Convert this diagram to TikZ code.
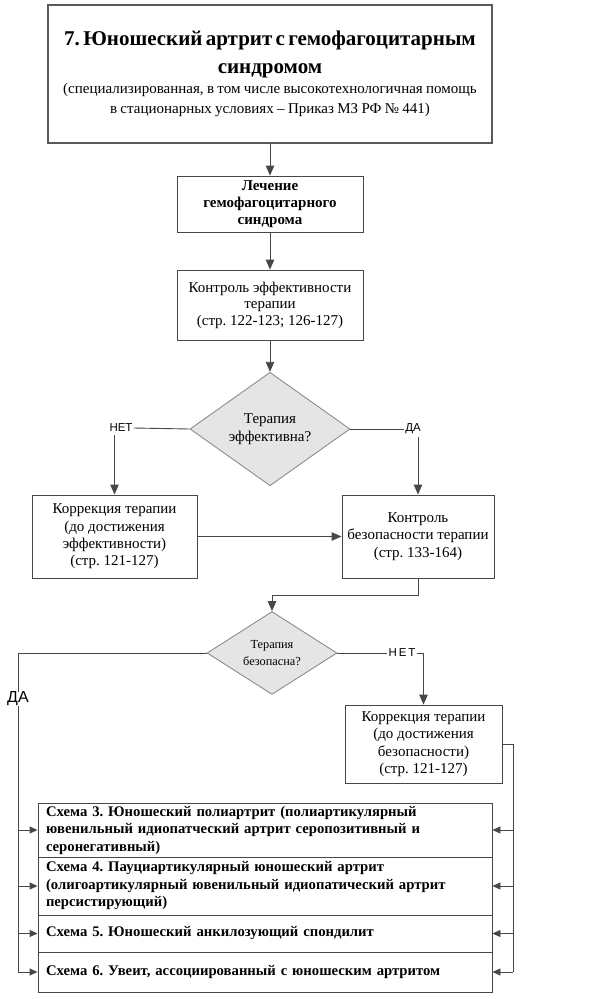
\documentclass[tikz,border=0pt]{standalone}
\usepackage{fontspec}
\setmainfont{Liberation Serif}
\newfontfamily\labelfont{Liberation Sans}
\usetikzlibrary{shapes.geometric,arrows.meta,calc}
\frenchspacing
\begin{document}
\begin{tikzpicture}[x=1pt,y=-1pt,
  box/.style={draw=black!72,line width=0.9pt,fill=white,rectangle,inner sep=2pt,align=center},
  decision/.style={diamond,draw=black!45,line width=0.9pt,fill=black!10,inner sep=0pt,align=center},
  lbl/.style={font=\labelfont\fontsize{11.5}{13}\selectfont,inner sep=1pt,fill=white},
  line/.style={draw=black!72,line width=0.9pt},
  arr/.style={line,-{Triangle[length=10pt,width=8.5pt]}},
  sarr/.style={line,-{Triangle[length=8pt,width=7pt]}},
  schema/.style={box,align=left,text width=438pt,anchor=center,
     font=\fontsize{14.7}{17.5}\selectfont\bfseries}
]
\useasboundingbox (0,0) rectangle (596,999);

\node[box,draw=black!65,line width=1.6pt,minimum width=444pt,minimum height=138pt,text width=436pt] (top) at (270,74)
  {\vspace*{4pt}{\fontsize{21}{24}\selectfont\bfseries 7. Юношеский артрит с гемофагоцитарным\\ синдромом\par}
   {\fontsize{15}{20}\selectfont (специализированная, в том числе высокотехнологичная помощь\\ в стационарных условиях -- Приказ МЗ РФ № 441)\par}};

\node[box,minimum width=186pt,minimum height=56pt,font=\fontsize{15}{17}\selectfont\bfseries] (b2) at (270,204)
  {Лечение\\ гемофагоцитарного\\ синдрома};

\node[box,minimum width=186pt,minimum height=70pt,font=\fontsize{15}{16.5}\selectfont] (b3) at (270,305)
  {Контроль эффективности\\ терапии\\ (стр. 122-123; 126-127)};

\node[decision,minimum width=160pt,minimum height=112pt,font=\fontsize{15}{18}\selectfont] (d1) at (270,429)
  {Терапия\\ эффективна?};

\node[box,minimum width=165pt,minimum height=83pt,font=\fontsize{15}{17.3}\selectfont] (b4) at (114.5,536.5)
  {Коррекция терапии\\ (до достижения\\ эффективности)\\ (стр. 121-127)};

\node[box,minimum width=152pt,minimum height=83pt,font=\fontsize{15}{17.5}\selectfont] (b5) at (418,536.5)
  {Контроль\\ безопасности терапии\\ (стр. 133-164)};

\node[decision,minimum width=130pt,minimum height=79pt,font=\fontsize{12.3}{17}\selectfont] (d2) at (272,653)
  {Терапия\\ безопасна?};

\node[box,minimum width=157pt,minimum height=78pt,font=\fontsize{15}{17.5}\selectfont] (b6) at (423.5,744)
  {Коррекция терапии\\ (до достижения\\ безопасности)\\ (стр. 121-127)};

\node[schema,minimum width=454pt,minimum height=54pt] (s3) at (265,830)
  {Схема 3. Юношеский полиартрит (полиартикулярный\\ ювенильный идиопатческий артрит серопозитивный и\\ серонегативный)};
\node[schema,minimum width=454pt,minimum height=58pt] (s4) at (265,886)
  {Схема 4. Пауциартикулярный юношеский артрит\\ (олигоартикулярный ювенильный идиопатический артрит\\ персистирующий)};
\node[schema,minimum width=454pt,minimum height=37pt] (s5) at (265,933.5)
  {Схема 5. Юношеский анкилозующий спондилит};
\node[schema,minimum width=454pt,minimum height=40pt] (s6) at (265,972)
  {Схема 6. Увеит, ассоциированный с юношеским артритом};

% labels
\node[lbl] (no1) at (121,428) {НЕТ};
\node[lbl] (yes1) at (413,429) {ДА};
\node[lbl] (no2) at (402,653) {Н\,Е\,Т};

% connectors
\draw[arr] (top.south) -- (b2.north);
\draw[arr] (b2.south) -- (b3.north);
\draw[arr] (b3.south) -- (d1.north);
\draw[line] (d1.west) -- (no1.east);
\draw[arr] (b4.north |- no1.south) ++(0,2) -- (b4.north);
\draw[line] (d1.east) -- (yes1.west);
\draw[arr] (b5.north |- yes1.south) ++(0,2) -- (b5.north);
\draw[arr] (b4.east) -- (b5.west);
\coordinate (m) at ($(b5.south)+(0,17)$);
\draw[arr] (b5.south) -- (m) -| (d2.north);

\coordinate (L) at (18,0);
\draw[line] (d2.west) -| (L |- s6.west);
\foreach \s in {s3,s4,s5,s6} \draw[sarr] (L |- \s.west) -- (\s.west);
\node[lbl,font=\labelfont\fontsize{16}{18}\selectfont,inner sep=0pt] (yes2) at (18,699) {ДА};

\draw[line] (d2.east) -- (no2.west);
\draw[arr] (no2.east) -| (b6.north);
\coordinate (R) at (513,0);
\draw[line] (b6.east) -| (R |- s6.east);
\foreach \s in {s3,s4,s5,s6} \draw[sarr] (R |- \s.east) -- (\s.east);
\end{tikzpicture}
\end{document}
